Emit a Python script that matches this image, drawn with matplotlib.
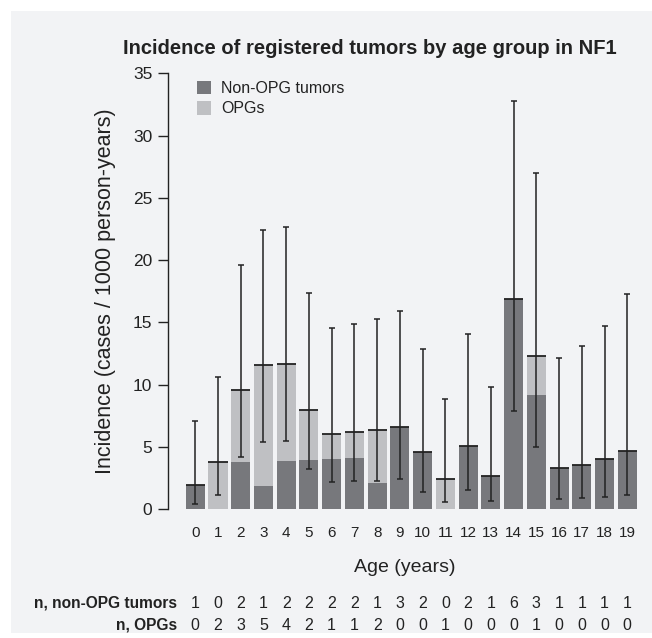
import numpy as np
import matplotlib
matplotlib.use('Agg')
import matplotlib.pyplot as plt
from matplotlib.patches import Rectangle
from matplotlib.transforms import blended_transform_factory

plt.rcParams['font.family'] = ['Liberation Sans', 'DejaVu Sans']

# ages and incidence per 1000 person-years
ages = list(range(20))
non_opg = [1.93, 0.0, 3.78, 1.88, 3.88, 3.96, 4.02, 4.12, 2.09, 6.59,
           4.58, 0.0, 5.06, 2.65, 16.87, 9.21, 3.29, 3.53, 4.02, 4.66]
total = [1.93, 3.78, 9.57, 11.57, 11.65, 7.95, 6.02, 6.18, 6.35, 6.59,
         4.58, 2.41, 5.06, 2.65, 16.87, 12.29, 3.29, 3.53, 4.02, 4.66]
ci_low = [0.46, 1.18, 4.21, 5.44, 5.46, 3.21, 2.17, 2.25, 2.30, 2.41,
          1.42, 0.56, 1.55, 0.64, 7.90, 4.98, 0.80, 0.88, 0.96, 1.12]
ci_high = [7.07, 10.66, 19.6, 22.44, 22.7, 17.35, 14.54, 14.86, 15.24, 15.93,
           12.85, 8.86, 14.1, 9.85, 32.74, 26.96, 12.16, 13.15, 14.75, 17.3]

n_non_opg = [1, 0, 2, 1, 2, 2, 2, 2, 1, 3, 2, 0, 2, 1, 6, 3, 1, 1, 1, 1]
n_opg = [0, 2, 3, 5, 4, 2, 1, 1, 2, 0, 0, 1, 0, 0, 0, 1, 0, 0, 0, 0]

dark = '#77787c'
light = '#bfc0c3'
bg = '#f2f3f5'
ink = '#222222'

fig = plt.figure(figsize=(6.52, 6.38), dpi=100)
fig.patch.set_facecolor('white')
fig.patches.append(Rectangle((11/652, 5/638), 2, 1 - 16/638, transform=fig.transFigure,
                             facecolor=bg, edgecolor='none', zorder=-10))

ax = fig.add_axes([0.2572, 0.2017, 0.7258, 0.6834])
ax.set_facecolor('none')

x = np.array(ages)
w = 0.84
opg = np.array(total) - np.array(non_opg)
ax.bar(x, non_opg, width=w, color=dark, label='Non-OPG tumors', zorder=2)
ax.bar(x, opg, width=w, bottom=non_opg, color=light, label='OPGs', zorder=2)
ax.hlines(total, x - w/2, x + w/2, color=ink, lw=1.3, zorder=3)

tot = np.array(total)
yerr = [tot - np.array(ci_low), np.array(ci_high) - tot]
ax.errorbar(x, tot, yerr=yerr, fmt='none', ecolor=ink, elinewidth=1.1,
            capsize=2.3, capthick=1.1, zorder=4)

ax.set_xlim(-1.21, 19.6)
ax.set_ylim(0, 35)
ax.set_yticks(range(0, 36, 5))
ax.set_xticks(x)
ax.set_xticklabels([str(a) for a in ages])
for s in ['top', 'right', 'bottom']:
    ax.spines[s].set_visible(False)
ax.spines['left'].set_color(ink)
ax.spines['left'].set_linewidth(1.0)
ax.tick_params(axis='y', length=7, width=1.0, color=ink, labelsize=12.5,
               labelcolor=ink, pad=4)
ax.tick_params(axis='x', length=0, labelsize=11, labelcolor=ink, pad=12)

ax.set_ylabel('Incidence (cases / 1000 person-years)', fontsize=15.5,
              color=ink, labelpad=12)
ax.set_xlabel('Age (years)', fontsize=14, color=ink, labelpad=14)

leg = ax.legend(loc='upper left', bbox_to_anchor=(0.048, 0.998), frameon=False,
                fontsize=11.5, handlelength=0.9, handleheight=0.9,
                handletextpad=0.6, labelspacing=0.35, borderaxespad=0)
for t in leg.get_texts():
    t.set_color(ink)

fig.text(370/652, 1 - 48/638, 'Incidence of registered tumors by age group in NF1',
         ha='center', va='center', fontsize=14.5, fontweight='bold', color=ink)

# count table under the axis, columns follow the bars
tr = blended_transform_factory(ax.transData, fig.transFigure)
row_y = [1 - 603/638, 1 - 625/638]
fig.text(177/652, row_y[0], 'n, non-OPG tumors', ha='right', va='center',
         fontsize=11.2, fontweight='bold', color=ink)
fig.text(177/652, row_y[1], 'n, OPGs', ha='right', va='center',
         fontsize=11.2, fontweight='bold', color=ink)
for a, c1, c2 in zip(ages, n_non_opg, n_opg):
    ax.text(a, row_y[0], str(c1), transform=tr, ha='center', va='center',
            fontsize=11.5, color=ink)
    ax.text(a, row_y[1], str(c2), transform=tr, ha='center', va='center',
            fontsize=11.5, color=ink)

fig.savefig('out.png', dpi=100, facecolor=fig.get_facecolor())
